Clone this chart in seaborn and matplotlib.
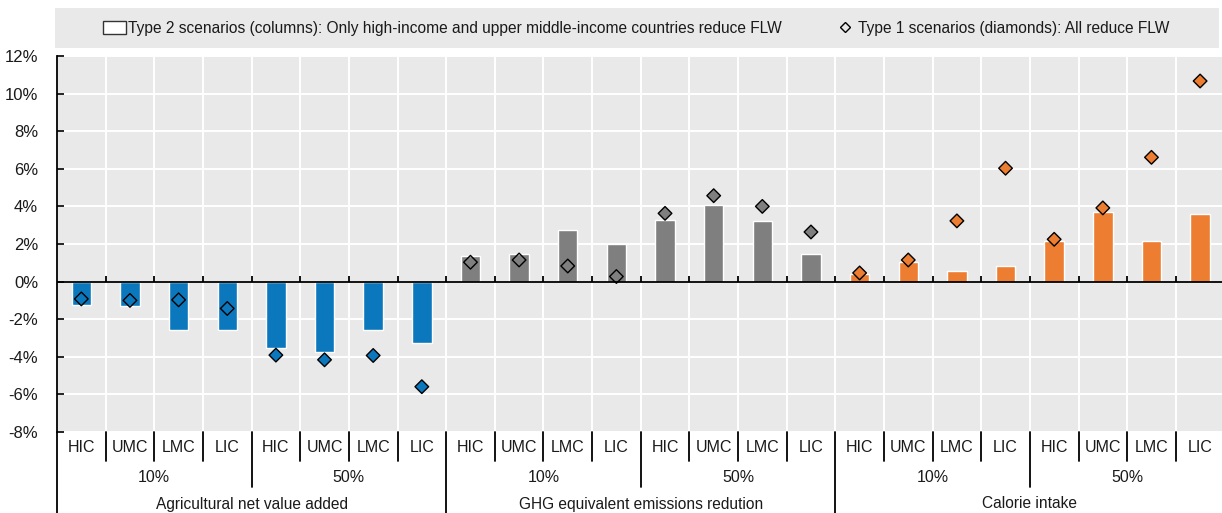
import matplotlib
matplotlib.use("Agg")
import matplotlib.pyplot as plt
import matplotlib.transforms as mtransforms
from matplotlib.patches import Patch, Rectangle
from matplotlib.lines import Line2D
from matplotlib.ticker import FuncFormatter, MultipleLocator
import seaborn as sns
import pandas as pd
import numpy as np

# Data (in %)
sections = ["Agricultural net value added", "GHG equivalent emissions redution", "Calorie intake"]
levels = ["10%", "50%"]
incomes = ["HIC", "UMC", "LMC", "LIC"]

agr_bars = [-1.24, -1.31, -2.57, -2.60, -3.52, -3.75, -2.60, -3.24]
agr_diamonds = [-0.92, -1.00, -0.97, -1.43, -3.91, -4.16, -3.93, -5.59]
ghg_bars = [1.35, 1.45, 2.73, 1.98, 3.26, 4.05, 3.20, 1.45]
ghg_diamonds = [1.03, 1.15, 0.83, 0.27, 3.63, 4.57, 4.00, 2.64]
cal_bars = [0.43, 1.06, 0.59, 0.85, 2.18, 3.72, 2.18, 3.62]
cal_diamonds = [0.46, 1.15, 3.23, 6.03, 2.25, 3.92, 6.61, 10.67]

section_colors = {
    "Agricultural net value added": "#0B78BE",
    "GHG equivalent emissions redution": "#7F7F7F",
    "Calorie intake": "#ED7D31",
}

legend_bar = "Type 2 scenarios (columns): Only high-income and upper middle-income countries reduce FLW"
legend_diamond = "Type 1 scenarios (diamonds): All reduce FLW"

# build the long table
rows = []
for sec, bars, dias in zip(sections, [agr_bars, ghg_bars, cal_bars],
                           [agr_diamonds, ghg_diamonds, cal_diamonds]):
    k = 0
    for lev in levels:
        for inc in incomes:
            rows.append({"section": sec, "level": lev, "income": inc,
                         "bar": bars[k], "diamond": dias[k]})
            k += 1
df = pd.DataFrame(rows)
df["pos"] = np.arange(len(df))

sns.set_theme(style="darkgrid", rc={
    "axes.facecolor": "#E9E9E9",
    "grid.color": "white",
    "grid.linewidth": 1.4,
})
plt.rcParams["font.family"] = ["Liberation Sans", "DejaVu Sans"]
txt_color = "#1A1A1A"

fig = plt.figure(figsize=(12.22, 5.13), dpi=100)
W, H = 1222, 513
ax = fig.add_axes([57 / W, (H - 432) / H, (1222 - 57) / W, (432 - 56) / H])

sns.barplot(data=df, x="pos", y="bar", hue="section", palette=section_colors,
            native_scale=True, dodge=False, width=0.4, errorbar=None,
            saturation=1, legend=False, ax=ax, zorder=2)

# diamonds: hollow for the 10% runs of the first two indicators
hollow = (df["level"] == "10%") & (df["section"] != "Calorie intake")
filled = df[~hollow]
sns.scatterplot(data=filled, x="pos", y="diamond", hue="section", palette=section_colors,
                marker="D", s=48, edgecolor="black", linewidth=1.0, legend=False,
                ax=ax, zorder=4)
ax.scatter(df.loc[hollow, "pos"], df.loc[hollow, "diamond"], marker="D", s=48,
           facecolors="none", edgecolors="black", linewidths=1.0, zorder=4)

n = len(df)
ax.set_xlim(-0.5, n - 0.55)
ax.set_ylim(-8, 12)
ax.yaxis.set_major_locator(MultipleLocator(2))
ax.yaxis.set_major_formatter(FuncFormatter(lambda v, p: f"{v:.0f}%"))
ax.set_xticks(np.arange(n) - 0.5, minor=True)
ax.set_xticks([])
ax.grid(True, which="minor", axis="x", color="white", linewidth=1.4)
ax.grid(True, which="major", axis="y", color="white", linewidth=1.4)
ax.set_axisbelow(True)
ax.set_xlabel("")
ax.set_ylabel("")
ax.tick_params(axis="y", which="major", direction="in", length=5, width=1.2,
               color="black", left=True, labelsize=12, pad=13.5, labelcolor=txt_color)
ax.tick_params(axis="x", which="minor", length=0)

for s in ["top", "right", "bottom"]:
    ax.spines[s].set_visible(False)
ax.spines["left"].set_color("black")
ax.spines["left"].set_linewidth(1.3)

# zero line with small tick marks at category borders
ax.axhline(0, color="black", linewidth=1.3, zorder=3)
ax.vlines(np.arange(1, n) - 0.5, 0, 0.28, color="black", linewidth=1.3, zorder=3)

# multi-level category labels below the plot
trans = mtransforms.blended_transform_factory(ax.transData, ax.transAxes)
ah = 432 - 56
y_short = -(461 - 432) / ah
y_mid = -(487 - 432) / ah
y_long = -(513 - 432) / ah
for i, r in df.iterrows():
    ax.text(r["pos"], -(448 - 432) / ah, r["income"], transform=trans,
            ha="center", va="center", fontsize=11.5, color=txt_color)
for b in range(0, n + 1):
    if b % 8 == 0:
        y0 = y_long
    elif b % 4 == 0:
        y0 = y_mid
    else:
        y0 = y_short
    ax.plot([b - 0.5, b - 0.5], [0, y0], transform=trans, color="black",
            linewidth=1.3, clip_on=False, zorder=5)
grp = df.groupby(["section", "level"], sort=False)["pos"].mean()
for (sec, lev), x in grp.items():
    ax.text(x, -(477 - 432) / ah, lev, transform=trans, ha="center", va="center",
            fontsize=11.5, color=txt_color)
sec_pos = df.groupby("section", sort=False)["pos"].mean()
for sec, x in sec_pos.items():
    ax.text(x, -(504 - 432) / ah, sec, transform=trans, ha="center", va="center",
            fontsize=11.2, color=txt_color)

# legend band on top
fig.patches.append(Rectangle((55 / W, (H - 48) / H), (1219 - 55) / W, 40 / H,
                             transform=fig.transFigure, facecolor="#E9E9E9",
                             edgecolor="none", zorder=0))
handles = [
    Patch(facecolor="white", edgecolor="#333333", linewidth=1.0),
    Line2D([], [], marker="D", linestyle="none", markersize=5.5,
           markerfacecolor="none", markeredgecolor="black", markeredgewidth=1.0),
]
fig.legend(handles, [legend_bar, legend_diamond], loc="center",
           bbox_to_anchor=(636 / W, (H - 28) / H), ncol=2, frameon=False,
           fontsize=11.2, handlelength=1.5, handleheight=0.9, handletextpad=0.1,
           columnspacing=3.3, labelcolor=txt_color)

plt.savefig("out.png", dpi=100)
